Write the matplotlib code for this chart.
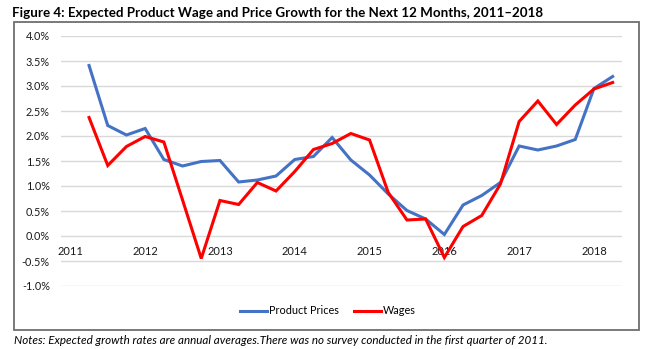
import numpy as np
import matplotlib
matplotlib.use("Agg")
import matplotlib.pyplot as plt

quarters = ["2011Q1", "2011Q2", "2011Q3", "2011Q4",
            "2012Q1", "2012Q2", "2012Q3", "2012Q4",
            "2013Q1", "2013Q2", "2013Q3", "2013Q4",
            "2014Q1", "2014Q2", "2014Q3", "2014Q4",
            "2015Q1", "2015Q2", "2015Q3", "2015Q4",
            "2016Q1", "2016Q2", "2016Q3", "2016Q4",
            "2017Q1", "2017Q2", "2017Q3", "2017Q4",
            "2018Q1", "2018Q2"]

# No survey in 2011Q1
product_prices = [np.nan, 3.41, 2.21, 2.02,
                  2.15, 1.53, 1.40, 1.49,
                  1.51, 1.08, 1.12, 1.20,
                  1.53, 1.59, 1.97, 1.52,
                  1.22, 0.84, 0.51, 0.34,
                  0.03, 0.62, 0.81, 1.07,
                  1.80, 1.72, 1.80, 1.93,
                  2.95, 3.19]

wages = [np.nan, 2.37, 1.41, 1.79,
         1.99, 1.88, 0.72, -0.45,
         0.71, 0.63, 1.07, 0.90,
         1.29, 1.73, 1.85, 2.05,
         1.92, 0.87, 0.32, 0.34,
         -0.43, 0.19, 0.41, 1.04,
         2.29, 2.70, 2.23, 2.62,
         2.94, 3.07]

year_labels = ["2011", "2012", "2013", "2014", "2015", "2016", "2017", "2018"]
y_ticks = [-1.0, -0.5, 0.0, 0.5, 1.0, 1.5, 2.0, 2.5, 3.0, 3.5, 4.0]

title = "Figure 4: Expected Product Wage and Price Growth for the Next 12 Months, 2011\u20132018"
notes = "Notes: Expected growth rates are annual averages.There was no survey conducted in the first quarter of 2011."

W, H = 657, 349
fig = plt.figure(figsize=(W / 100, H / 100), dpi=100)
fig.patch.set_facecolor("white")
FONT = ["Lato", "DejaVu Sans"]

ax = fig.add_axes([61 / W, 1 - 286 / H, (622 - 61) / W, (286 - 36) / H])
ax.spines["bottom"].set_position(("data", 0))
for s in ax.spines.values():
    s.set_visible(False)

x = np.arange(len(quarters))
ax.plot(x, product_prices, color="#4472C4", lw=2.2, label="Product Prices",
        solid_joinstyle="miter", zorder=3)
ax.plot(x, wages, color="#FF0000", lw=2.2, label="Wages",
        solid_joinstyle="miter", zorder=4)

ax.set_xlim(-0.5, len(quarters) - 0.5)
ax.set_ylim(-1.0, 4.0)
ax.set_yticks(y_ticks)
ax.set_yticklabels([f"{v:.1f}%" for v in y_ticks], family=FONT, fontsize=7.8, color="#1a1a1a")
ax.yaxis.grid(True, color="#D9D9D9", lw=1.0)
ax.set_axisbelow(True)
ax.tick_params(axis="y", length=0, pad=8)

year_pos = [quarters.index(y + "Q1") for y in year_labels]
ax.set_xticks(year_pos)
ax.set_xticklabels(year_labels, family=FONT, fontsize=8.0, color="#1a1a1a")
ax.tick_params(axis="x", length=0, pad=7.5)

leg = fig.legend(loc="center", bbox_to_anchor=(328 / W, 1 - 311 / H), ncol=2,
                 frameon=False, prop={"family": FONT, "size": 7.8},
                 handlelength=2.5, handletextpad=0.15, columnspacing=1.4)
for h in leg.get_lines():
    h.set_linewidth(2.2)

# outer border
rect = plt.Rectangle((14 / W, 1 - 330 / H), (639 - 14) / W, (330 - 22) / H,
                     transform=fig.transFigure, fill=False, edgecolor="#6E6E6E", lw=1.3)
fig.add_artist(rect)

t = fig.text(12 / W, 1 - 13 / H, title, family=FONT, fontweight="bold", fontsize=10,
             ha="left", va="center")
n = fig.text(14 / W, 1 - 340 / H, notes, family=FONT, style="italic", fontsize=8,
             ha="left", va="center")

fig.canvas.draw()
r = fig.canvas.get_renderer()
for txt, target in ((t, 530), (n, 533)):
    w = txt.get_window_extent(r).width
    txt.set_fontsize(txt.get_fontsize() * target / w)

fig.savefig("out.png", dpi=100, facecolor="white")
